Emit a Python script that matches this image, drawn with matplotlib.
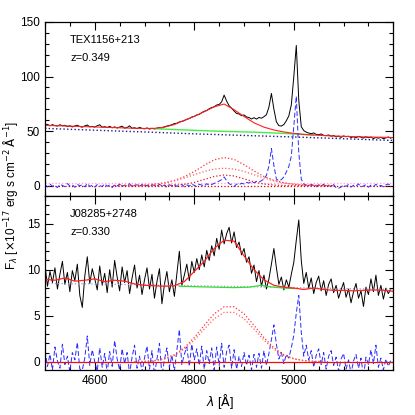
import numpy as np
import matplotlib.pyplot as plt
from matplotlib.ticker import MultipleLocator, FixedLocator

plt.rcParams['font.family'] = ['Liberation Sans', 'DejaVu Sans']

# spectra sampled every 5 A
wave = np.arange(4500, 5200, 5)

# TEX1156+213 observed spectrum
tex_flux = [55.5, 56.2, 54.8, 55.9, 55.0, 54.6, 55.8, 54.9, 55.3, 54.2,
            54.9, 53.8, 54.7, 55.4, 54.1, 53.6, 54.8, 55.6, 53.9, 54.3,
            53.7, 54.9, 55.8, 53.5, 54.1, 53.2, 54.4, 53.0, 53.9, 52.8,
            53.6, 54.5, 52.7, 53.3, 54.8, 52.6, 53.1, 52.2, 53.4, 52.5,
            52.0, 52.9, 51.8, 52.6, 51.9, 52.7, 53.3, 52.8, 54.0, 54.6,
            55.2, 55.8, 56.9, 57.2, 58.4, 58.9, 59.6, 60.8, 61.5, 62.9,
            63.4, 64.8, 65.3, 66.9, 68.2, 68.8, 70.5, 71.6, 72.3, 73.9,
            74.4, 76.8, 83.0, 77.5, 73.2, 71.0, 68.4, 66.2, 65.7, 64.1,
            64.8, 63.0, 62.4, 61.1, 62.3, 61.0, 62.5, 61.8, 63.2, 65.0,
            72.0, 84.5, 70.0, 58.5, 55.0, 54.6, 56.0, 59.5, 64.0, 74.0,
            100.0, 128.5, 78.0, 54.0, 50.5, 49.0, 48.2, 47.6, 48.3, 47.0,
            46.6, 47.4, 46.1, 45.8, 46.5, 45.3, 45.9, 44.7, 45.4, 44.2,
            45.6, 44.8, 45.3, 44.1, 44.9, 43.8, 45.2, 44.4, 43.6, 44.8,
            43.9, 44.5, 43.2, 44.1, 43.5, 44.3, 43.0, 43.8, 44.6, 43.4]
tex_resid = [0.8, -1.2, 1.5, -0.6, 0.3, -1.8, 1.1, 0.2, -0.9, 1.9,
             -0.4, 0.7, -1.5, 1.2, -0.2, 0.9, -1.1, 2.0, -0.7, 0.4,
             -1.3, 1.0, 0.1, -0.8, 1.6, -0.5, 0.6, -1.7, 0.9, -0.3,
             1.4, -1.0, 0.5, -0.2, 1.8, -1.4, 0.3, 0.8, -0.6, 1.2,
             -0.9, 0.4, -1.6, 1.0, 0.2, -0.7, 1.3, -0.4, 0.6, -1.2,
             0.9, -0.3, 1.5, -0.8, 0.4, 1.1, -1.0, 0.7, -0.5, 1.6,
             0.2, -0.9, 1.2, 0.5, -0.4, 1.8, 0.3, 1.0, 2.1, 3.0,
             4.2, 5.5, 8.0, 4.5, 1.8, 0.6, -0.8, 1.4, 0.9, 2.2,
             1.5, 3.0, 2.4, 3.8, 2.6, 4.0, 3.2, 4.6, 6.0, 9.5,
             18.0, 34.0, 18.5, 6.0, 4.5, 5.5, 8.0, 12.5, 17.5, 27.0,
             55.0, 82.0, 30.0, 6.0, 1.5, 0.4, -0.6, 1.1, 0.2, -1.0,
             0.8, -0.4, 1.3, -1.5, 0.5, -0.9, 1.0, -1.8, -2.5, -1.2,
             0.6, -0.7, 1.2, -1.3, 0.3, -0.5, 1.6, -1.1, -0.3, 0.9,
             -1.4, 0.4, -0.8, 1.2, -0.6, 0.2, -1.0, 0.7, 1.5, -0.4]

# J08285+2748 observed spectrum
j08_flux = [10.5, 8.2, 9.8, 8.6, 10.2, 7.9, 9.5, 10.9, 8.4, 9.7,
            7.6, 9.9, 8.8, 10.6, 7.2, 5.9, 9.3, 11.4, 8.5, 10.1,
            9.0, 7.8, 10.4, 8.3, 9.6, 7.5, 10.0, 8.1, 11.0, 9.2,
            7.7, 10.3, 8.6, 9.9, 7.4, 9.1, 10.5, 8.0, 9.4, 7.3,
            8.9, 10.2, 7.9, 9.5, 6.9, 8.7, 10.1, 6.3, 8.4, 9.8,
            7.6, 8.9, 7.1, 9.6, 12.0, 8.3, 9.4, 10.6, 8.8, 10.9,
            9.7, 11.2, 10.0, 11.6, 10.3, 12.1, 11.0, 12.6, 11.5, 13.4,
            12.2, 14.3, 12.8, 13.9, 14.6, 12.9, 14.1, 12.4, 13.0, 11.6,
            12.3, 10.8, 11.4, 9.6, 10.5, 8.7, 9.9, 8.2, 9.4, 7.9,
            9.0, 10.6, 12.3, 10.2, 8.4, 9.2, 7.8, 8.9, 8.1, 9.5,
            10.8, 13.2, 15.4, 11.0, 8.5, 9.7, 8.0, 9.1, 7.4, 8.6,
            9.3, 7.7, 8.8, 7.2, 8.4, 9.0, 7.5, 8.3, 6.9, 7.8,
            8.6, 7.0, 7.9, 6.4, 7.6, 8.5, 6.9, 7.7, 6.0, 8.1,
            7.3, 9.0, 7.6, 9.4, 7.2, 8.3, 6.8, 8.0, 7.4, 7.9]
j08_resid = [1.2, -0.5, 0.8, -0.9, 1.6, 0.1, -0.7, 1.9, -0.3, 0.6,
             -1.1, 1.0, 0.2, 2.1, -0.8, -0.9, 0.4, 2.8, -0.4, 1.3,
             0.0, -1.0, 1.5, -0.6, 0.9, -1.2, 1.1, -0.5, 2.3, 0.3,
             -0.9, 1.4, -0.2, 1.0, -1.3, 0.5, 1.8, -0.7, 0.6, -1.1,
             0.4, 1.7, -0.8, 1.2, -1.4, 0.3, 2.0, -1.5, 0.2, 1.5,
             -0.6, 0.7, -1.0, 1.3, 3.5, -0.3, 0.8, 1.6, -0.5, 1.9,
             0.2, 1.4, -0.4, 1.7, -0.8, 1.2, -0.2, 1.5, -0.9, 1.6,
             -0.4, 2.0, -0.6, 1.1, 1.8, -0.7, 1.3, -0.8, 0.6, -0.5,
             1.0, -0.4, 0.7, -0.9, 0.8, -0.6, 0.9, -0.7, 1.2, -0.4,
             0.9, 2.4, 4.0, 1.9, 0.3, 1.0, -0.2, 0.8, 0.4, 1.5,
             2.9, 5.3, 7.2, 3.2, 0.6, 1.8, 0.2, 1.2, -0.6, 0.7,
             1.4, -0.3, 1.0, -0.8, 0.6, 1.2, -0.4, 0.5, -1.0, 0.3,
             0.9, -0.8, 0.2, -1.3, 0.1, 0.8, -0.7, 0.4, -1.6, 0.5,
             -0.3, 1.3, -0.2, 1.8, -0.6, 0.4, -0.9, 0.3, -0.5, 0.2]

# fitted models, every 20 A
model_wave = np.arange(4500, 5201, 20)
tex_model = [55.3, 55.0, 54.7, 54.4, 54.1, 53.8, 53.5, 53.2, 52.9, 52.6,
             52.4, 52.5, 53.6, 56.0, 59.9, 63.5, 67.8, 72.2, 74.8, 69.6,
             63.4, 57.6, 53.6, 51.0, 49.2, 47.9, 47.0, 46.4, 45.9, 45.5,
             45.2, 44.9, 44.7, 44.5, 44.3, 44.1]
j08_model = [8.95, 8.85, 9.1, 8.75, 8.85, 9.0, 8.7, 8.85, 8.75, 8.45,
             8.3, 8.25, 8.2, 8.25, 8.7, 9.8, 10.9, 12.3, 13.2, 13.1,
             11.5, 10.0, 8.9, 8.3, 8.1, 8.0, 7.85, 8.0, 7.85, 7.75,
             7.75, 7.7, 7.75, 7.8, 7.75, 7.65]

tex_fe_wave = [4720, 4760, 4800, 4840, 4880, 4920, 4960, 5000, 5040]
tex_fe = [52.2, 51.4, 50.7, 50.0, 49.5, 49.0, 48.3, 47.4, 46.3]
j08_fe_wave = [4770, 4800, 4840, 4880, 4910, 4935, 4950, 4980, 5000]
j08_fe = [8.2, 8.15, 8.1, 8.05, 8.1, 8.3, 8.15, 8.0, 7.95]

pl_wave = [4500, 4600, 4700, 4800, 4900, 5000, 5100, 5200]
tex_pl = [52.5, 50.8, 49.2, 47.5, 46.0, 44.6, 43.0, 41.4]
j08_pl = [8.5, 8.45, 8.35, 8.25, 8.15, 8.05, 7.95, 7.85]

# broad Hbeta components
tex_hb_wave = np.arange(4640, 5081, 20)
tex_hb_total = [0.03, 0.09, 0.24, 0.57, 1.25, 2.55, 4.74, 8.16, 12.95, 18.65,
                23.63, 25.79, 24.06, 19.24, 13.43, 8.42, 4.85, 2.59, 1.28, 0.57,
                0.24, 0.09, 0.03]
tex_hb_wide = [0.03, 0.09, 0.24, 0.57, 1.25, 2.46, 4.36, 6.96, 10.0, 13.0,
               15.2, 16.0, 15.2, 13.0, 10.0, 6.96, 4.36, 2.46, 1.25, 0.57,
               0.24, 0.09, 0.03]
tex_hb_narrow = [0, 0, 0, 0, 0, 0.09, 0.38, 1.20, 2.95, 5.65,
                 8.43, 9.79, 8.86, 6.24, 3.43, 1.46, 0.49, 0.13, 0.03, 0,
                 0, 0, 0]
j08_hb_wave = np.arange(4680, 5061, 20)
j08_hb_a = [0.01, 0.04, 0.13, 0.33, 0.76, 1.51, 2.62, 3.95, 5.20, 5.97,
            5.97, 5.20, 3.95, 2.62, 1.51, 0.76, 0.33, 0.13, 0.04, 0.01]
j08_hb_b = [0.01, 0.04, 0.12, 0.30, 0.68, 1.36, 2.35, 3.55, 4.67, 5.36,
            5.36, 4.67, 3.55, 2.35, 1.36, 0.68, 0.30, 0.12, 0.04, 0.01]

x_ticks = [4600, 4800, 5000]

fig = plt.figure(figsize=(4.15, 4.15), dpi=100)
ax1 = fig.add_axes([0.1084, 0.5277, 0.8394, 0.4193])
ax2 = fig.add_axes([0.1084, 0.1084, 0.8394, 0.4193])

# top panel
ax1.plot(wave, tex_flux, c='black', lw=0.7)
ax1.plot(pl_wave, tex_pl, c='#1a1a8c', lw=1.0, ls=':')
ax1.plot(tex_fe_wave, tex_fe, c='#44ee44', lw=1.0)
ax1.plot(model_wave, tex_model, c='#ff2020', lw=0.8)
ax1.axhline(2.8, c='#ff99dd', lw=0.9, ls=':')
ax1.axhline(0, c='#cc0000', lw=0.9, ls=':')
ax1.plot(wave, tex_resid, c='#2a2aff', lw=0.7, ls=(0, (5, 2.5)))
ax1.plot(tex_hb_wave, tex_hb_total, c='#ff3030', lw=0.9, ls=':')
ax1.plot(tex_hb_wave, tex_hb_wide, c='#ff6060', lw=0.9, ls=':')
ax1.plot(tex_hb_wave, tex_hb_narrow, c='#dd2020', lw=0.9, ls=':')
ax1.set_ylim(-9.5, 150)
ax1.yaxis.set_major_locator(MultipleLocator(50))
ax1.yaxis.set_minor_locator(MultipleLocator(10))
ax1.text(0.072, 0.897, 'TEX1156+213', transform=ax1.transAxes, fontsize=8, va='center')
ax1.text(0.072, 0.793, 'z=0.349', transform=ax1.transAxes, fontsize=8, va='center')
ax1.tick_params(labelbottom=False)

# bottom panel
ax2.plot(wave, j08_flux, c='black', lw=0.7)
ax2.plot(pl_wave, j08_pl, c='#9999cc', lw=0.9, ls=':')
ax2.plot(j08_fe_wave, j08_fe, c='#33dd33', lw=0.9)
ax2.plot(model_wave, j08_model, c='#ff2020', lw=0.9)
ax2.plot(wave, j08_resid, c='#2a2aff', lw=0.7, ls=(0, (5, 2.5)))
ax2.axhline(0, c='#ee1010', lw=0.9)
ax2.plot(j08_hb_wave, j08_hb_a, c='#ff3030', lw=0.9, ls=':')
ax2.plot(j08_hb_wave, j08_hb_b, c='#ff6060', lw=0.9, ls=':')
ax2.set_ylim(-0.9, 18)
ax2.yaxis.set_major_locator(MultipleLocator(5))
ax2.yaxis.set_minor_locator(MultipleLocator(1))
ax2.text(0.072, 0.897, 'J08285+2748', transform=ax2.transAxes, fontsize=8, va='center')
ax2.text(0.072, 0.793, 'z=0.330', transform=ax2.transAxes, fontsize=8, va='center')

for ax in [ax1, ax2]:
    ax.set_xlim(4500, 5200)
    ax.xaxis.set_major_locator(FixedLocator(x_ticks))
    ax.xaxis.set_minor_locator(MultipleLocator(50))
    ax.tick_params(which='both', direction='in', top=True, right=True, labelsize=8.5, width=0.8)
    ax.tick_params(which='major', length=5.5)
    ax.tick_params(which='minor', length=3)
    for sp in ax.spines.values():
        sp.set_linewidth(0.9)

fig.text(0.026, 0.53, r'F$_\lambda$ [$\times$10$^{-17}$ erg s cm$^{-2}$ $\mathrm{\AA}^{-1}$]',
         rotation=90, va='center', ha='center', fontsize=8.5)
fig.text(0.53, 0.032, r'$\lambda$ [$\mathrm{\AA}$]', va='center', ha='center', fontsize=9)

plt.savefig('out.png', dpi=100)
